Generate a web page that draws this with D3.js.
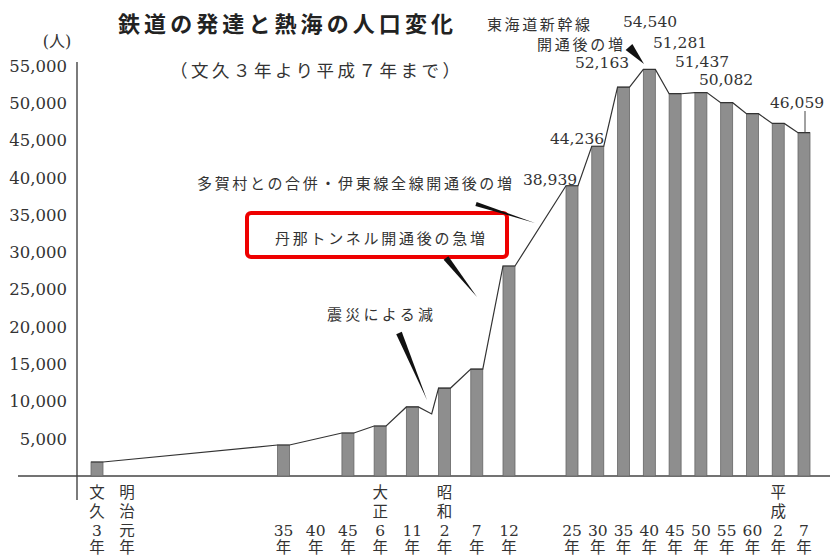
<!DOCTYPE html>
<html>
<head>
<meta charset="utf-8">
<script src="https://cdn.jsdelivr.net/npm/d3@7"></script>
<style>
  body { margin: 0; background: #fff; }
  svg { display: block; }
</style>
</head>
<body>
<svg id="chart" width="830" height="556"></svg>
<script>
// census years (western calendar) and Atami population
const censusYears = [1863, 1902, 1912, 1917, 1922, 1925, 1927, 1932, 1937,
                     1950, 1955, 1960, 1965, 1970, 1975, 1980, 1985, 1990, 1995];
const population  = [1880, 4160, 5770, 6710, 9260, 8320, 11800, 14350, 28170,
                     38939, 44236, 52163, 54540, 51281, 51437, 50082, 48600, 47300, 46059];
const noBarYears = [1925];   // quake dip, line only
const labeledYears = [1950, 1955, 1960, 1965, 1970, 1975, 1980, 1995];

// x tick labels (vertical)
const tickYears  = [1863, 1868, 1902, 1907, 1912, 1917, 1922, 1927, 1932, 1937,
                    1950, 1955, 1960, 1965, 1970, 1975, 1980, 1985, 1990, 1995];
const tickLabels = ["文久3年", "明治元年", "35年", "40年", "45年", "大正6年", "11年", "昭和2年", "7年", "12年",
                    "25年", "30年", "35年", "40年", "45年", "50年", "55年", "60年", "平成2年", "7年"];
const yTicks = [5000, 10000, 15000, 20000, 25000, 30000, 35000, 40000, 45000, 50000, 55000];

const svg = d3.select("#chart");
const numFont = "'DejaVu Serif', 'Noto Sans CJK JP', serif";
const jpFont = "'Noto Sans CJK JP', sans-serif";
const ink = "#333";

// the original axis is not uniform in time, so piecewise linear
const x = d3.scaleLinear()
  .domain([1863, 1868, 1902, 1937, 1950, 1995])
  .range([97, 127, 283.5, 509, 572, 804]);
const y = d3.scaleLinear().domain([0, 55000]).range([476, 66]);
const barW = 12;

const data = censusYears.map((yr, i) => ({year: yr, value: population[i], bar: !noBarYears.includes(yr)}));

// axes
svg.append("line").attr("x1", 18).attr("x2", 830).attr("y1", y(0)).attr("y2", y(0))
  .attr("stroke", "#444").attr("stroke-width", 1.4);
svg.append("line").attr("x1", 77).attr("x2", 77).attr("y1", 62).attr("y2", 500)
  .attr("stroke", "#444").attr("stroke-width", 1.4);

const yAxis = d3.axisLeft(y).tickValues(yTicks).tickSize(0).tickPadding(10)
  .tickFormat(d3.format(","));
const gy = svg.append("g").attr("transform", "translate(77,0)").call(yAxis);
gy.select(".domain").remove();
gy.selectAll("text").attr("font-family", numFont).attr("font-size", 16.5).attr("fill", ink);

svg.append("text").attr("x", 57).attr("y", 41).attr("text-anchor", "middle")
  .attr("dominant-baseline", "central").attr("font-family", numFont)
  .attr("font-size", 16).attr("fill", ink).text("(人)");

// bars
svg.append("g").selectAll("rect").data(data.filter(d => d.bar)).join("rect")
  .attr("x", d => x(d.year) - barW / 2)
  .attr("y", d => y(d.value))
  .attr("width", barW)
  .attr("height", d => y(0) - y(d.value))
  .attr("fill", "#8e8e8e")
  .attr("stroke", "#666").attr("stroke-width", 0.8);

// population line runs flat across each bar top
const linePts = [];
data.forEach(d => {
  if (d.bar) {
    linePts.push([x(d.year) - barW / 2, y(d.value)]);
    linePts.push([x(d.year) + barW / 2, y(d.value)]);
  } else {
    linePts.push([x(d.year), y(d.value)]);
  }
});
svg.append("path").attr("d", d3.line()(linePts))
  .attr("fill", "none").attr("stroke", "#333").attr("stroke-width", 1.2);

// x tick labels, bottom aligned rows
const rowY = [493, 512, 531, 548];
tickYears.forEach((yr, i) => {
  const parts = tickLabels[i].match(/\d+|./g);
  const g = svg.append("text").attr("text-anchor", "middle")
    .attr("font-family", numFont).attr("font-size", 15.5).attr("fill", ink);
  parts.forEach((p, j) => {
    g.append("tspan").attr("x", x(yr)).attr("y", rowY[4 - parts.length + j])
      .attr("dominant-baseline", "central").text(p);
  });
});

// value labels
const labelPos = {1950: [550, 180], 1955: [577, 139], 1960: [602, 63], 1965: [650, 22],
                  1970: [680, 43], 1975: [702, 62], 1980: [726, 80], 1995: [797, 103]};
data.filter(d => labeledYears.includes(d.year)).forEach(d => {
  const p = labelPos[d.year];
  svg.append("text").attr("x", p[0]).attr("y", p[1]).attr("text-anchor", "middle")
    .attr("dominant-baseline", "central").attr("font-family", numFont)
    .attr("font-size", 15.5).attr("fill", ink).text(d3.format(",")(d.value));
});
const last = data[data.length - 1];
svg.append("line").attr("x1", x(last.year) + 1).attr("x2", x(last.year) + 1)
  .attr("y1", 111).attr("y2", y(last.value)).attr("stroke", "#444");

// titles
svg.append("text").attr("x", 118).attr("y", 22).attr("dominant-baseline", "central")
  .attr("font-family", jpFont).attr("font-weight", 700).attr("font-size", 22)
  .attr("textLength", 335).attr("lengthAdjust", "spacing").attr("fill", "#222")
  .text("鉄道の発達と熱海の人口変化");
svg.append("text").attr("x", 170).attr("y", 69).attr("dominant-baseline", "central")
  .attr("font-family", jpFont).attr("font-size", 17.5)
  .attr("textLength", 290).attr("lengthAdjust", "spacing").attr("fill", ink)
  .text("（文久３年より平成７年まで）");

// annotations
svg.append("rect").attr("x", 247).attr("y", 213).attr("width", 260).attr("height", 44)
  .attr("rx", 4).attr("fill", "#fff").attr("stroke", "#ee0000").attr("stroke-width", 4);

const notes = [
  ["東海道新幹線", 487, 23, 103],
  ["開通後の増", 537, 43, 86],
  ["多賀村との合併・伊東線全線開通後の増", 197, 182, 315],
  ["丹那トンネル開通後の急増", 275, 237, 210],
  ["震災による減", 327, 313, 106]
];
notes.forEach(n => {
  svg.append("text").attr("x", n[1]).attr("y", n[2]).attr("dominant-baseline", "central")
    .attr("font-family", jpFont).attr("font-size", 15)
    .attr("textLength", n[3]).attr("lengthAdjust", "spacing").attr("fill", ink).text(n[0]);
});

function wedge(x1, y1, x2, y2, w) {
  const dx = x2 - x1, dy = y2 - y1, len = Math.hypot(dx, dy);
  const nx = -dy / len * w / 2, ny = dx / len * w / 2;
  return [[x1 + nx, y1 + ny], [x1 - nx, y1 - ny], [x2, y2]];
}
const pointers = [
  [629, 47, 644, 64, 9],
  [476, 204, 535, 223, 4],
  [446, 258, 477, 297, 6],
  [399, 333, 427, 400, 6]
];
pointers.forEach(p => {
  svg.append("path").attr("d", d3.line()(wedge(...p)) + "Z").attr("fill", "#111");
});
</script>
</body>
</html>
